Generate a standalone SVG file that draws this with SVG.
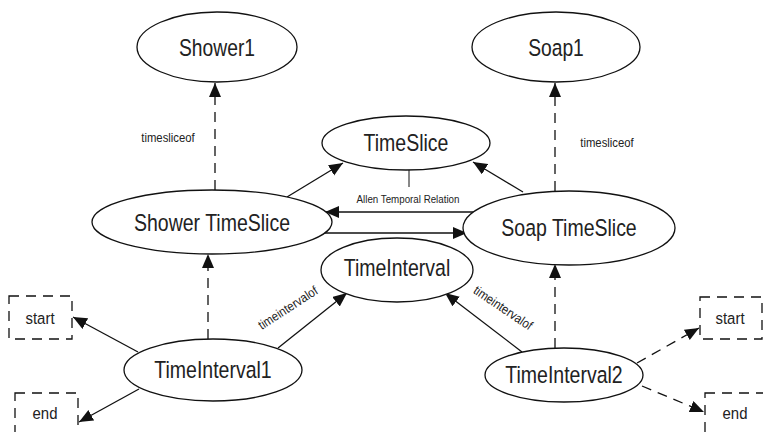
<svg xmlns="http://www.w3.org/2000/svg" width="763" height="432" viewBox="0 0 763 432">
  <style>
    .node ellipse { fill: #fff; stroke: #111; stroke-width: 1.3; }
    .box rect { fill: none; stroke: #111; stroke-width: 1.3; stroke-dasharray: 10 7; }
    .label { font-family: "Liberation Sans", Arial, sans-serif; font-size: 23.5px; fill: #222; text-anchor: middle; dominant-baseline: central; }
    .term { font-family: "Liberation Sans", Arial, sans-serif; font-size: 17px; fill: #222; text-anchor: middle; dominant-baseline: central; }
    .small { font-family: "Liberation Sans", Arial, sans-serif; font-size: 13px; fill: #222; text-anchor: middle; dominant-baseline: central; }
    .solid { stroke: #111; stroke-width: 1.3; fill: none; marker-end: url(#arrow); }
    .dash { stroke: #111; stroke-width: 1.3; fill: none; stroke-dasharray: 10 7; marker-end: url(#arrow); }
    .plain { stroke: #111; stroke-width: 1; fill: none; }
  </style>
  <defs>
    <marker id="arrow" markerUnits="userSpaceOnUse" markerWidth="15" markerHeight="13" refX="14" refY="6" orient="auto">
      <path d="M0,0 L14,6 L0,12 z" fill="#111"/>
    </marker>
  </defs>
  <rect width="763" height="432" fill="#fff"/>

  <!-- relations -->
  <g id="connectors">
    <line class="dash" x1="215" y1="190" x2="215" y2="83"/>
    <line class="dash" x1="555" y1="191" x2="555" y2="83"/>
    <line class="solid" x1="287" y1="197" x2="343" y2="163"/>
    <line class="solid" x1="523" y1="192" x2="473" y2="162"/>
    <line class="solid" x1="477" y1="212" x2="325" y2="212"/>
    <line class="solid" x1="323" y1="233" x2="467" y2="233"/>
    <line class="plain" x1="409" y1="170" x2="409" y2="187"/>
    <line class="dash" x1="208" y1="339" x2="208" y2="254"/>
    <line class="dash" x1="555" y1="348" x2="555" y2="264"/>
    <line class="solid" x1="278" y1="348" x2="347" y2="293"/>
    <line class="solid" x1="522" y1="352" x2="445" y2="293"/>
    <line class="solid" x1="138" y1="352" x2="73" y2="317"/>
    <line class="solid" x1="139" y1="389" x2="79" y2="422"/>
    <line class="dash" x1="637" y1="363" x2="699" y2="328"/>
    <line class="dash" x1="642" y1="386" x2="704" y2="412"/>

    <text class="small" transform="translate(168 138) scale(0.87 1)">timesliceof</text>
    <text class="small" transform="translate(607 143) scale(0.87 1)">timesliceof</text>
    <text class="small" style="font-size:11.5px" transform="translate(408 199) scale(0.85 1)">Allen Temporal Relation</text>
    <text class="small" transform="translate(288 308) rotate(-33) scale(0.88 1)">timeintervalof</text>
    <text class="small" transform="translate(503 308) rotate(34) scale(0.88 1)">timeintervalof</text>
  </g>

  <g id="shower1" class="node">
    <ellipse cx="217" cy="47" rx="80" ry="35"/>
    <text class="label" transform="translate(217 48) scale(0.82 1)">Shower1</text>
  </g>
  <g id="soap1" class="node">
    <ellipse cx="556" cy="47" rx="84" ry="35"/>
    <text class="label" transform="translate(556 48) scale(0.82 1)">Soap1</text>
  </g>
  <g id="timeslice" class="node">
    <ellipse cx="406" cy="143" rx="84" ry="27"/>
    <text class="label" transform="translate(406 143) scale(0.83 1)">TimeSlice</text>
  </g>
  <g id="shower-timeslice" class="node">
    <ellipse cx="212" cy="222" rx="120" ry="32"/>
    <text class="label" transform="translate(212 223) scale(0.83 1)">Shower TimeSlice</text>
  </g>
  <g id="soap-timeslice" class="node">
    <ellipse cx="569" cy="228" rx="106" ry="37"/>
    <text class="label" transform="translate(569 228) scale(0.83 1)">Soap TimeSlice</text>
  </g>
  <g id="timeinterval" class="node">
    <ellipse cx="397" cy="270" rx="76" ry="32"/>
    <text class="label" transform="translate(397 268) scale(0.83 1)">TimeInterval</text>
  </g>
  <g id="timeinterval1" class="node">
    <ellipse cx="213" cy="370" rx="89" ry="31"/>
    <text class="label" transform="translate(213 370) scale(0.83 1)">TimeInterval1</text>
  </g>
  <g id="timeinterval2" class="node">
    <ellipse cx="564" cy="375" rx="79" ry="27"/>
    <text class="label" transform="translate(564 375) scale(0.83 1)">TimeInterval2</text>
  </g>

  <g id="start1" class="box">
    <rect x="9" y="296" width="63" height="43"/>
    <text class="term" transform="translate(40 318) scale(0.88 1)">start</text>
  </g>
  <g id="end1" class="box">
    <rect x="15" y="393" width="63" height="60"/>
    <text class="term" transform="translate(45 413) scale(0.88 1)">end</text>
  </g>
  <g id="start2" class="box">
    <rect x="700" y="297" width="62" height="42"/>
    <text class="term" transform="translate(730 318) scale(0.88 1)">start</text>
  </g>
  <g id="end2" class="box">
    <rect x="705" y="393" width="70" height="60"/>
    <text class="term" transform="translate(735 413) scale(0.88 1)">end</text>
  </g>
</svg>
